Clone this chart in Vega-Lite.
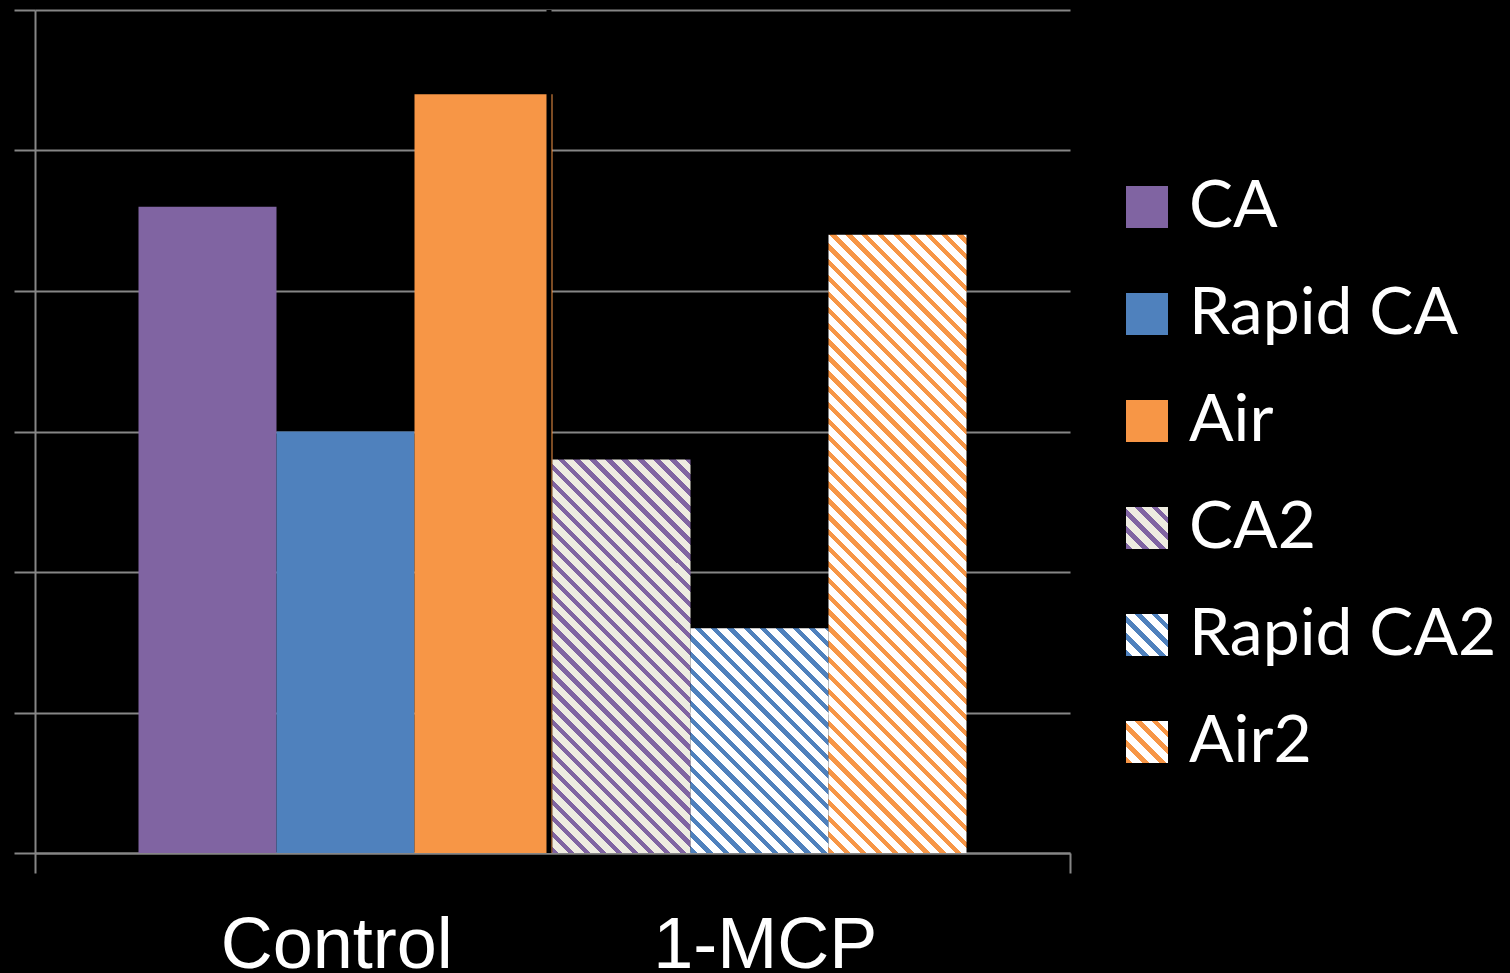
{
  "$schema": "https://vega.github.io/schema/vega-lite/v6.json",
  "width": 1035,
  "height": 843,
  "autosize": {"type": "none"},
  "padding": {"left": 35, "top": 10, "right": 440, "bottom": 120},
  "background": "#000000",
  "config": {"view": {"stroke": null}, "font": "Liberation Sans"},
  "data": {
    "values": [
      {"group": "Control", "series": "CA", "value": 4.6},
      {"group": "Control", "series": "Rapid CA", "value": 3.0},
      {"group": "Control", "series": "Air", "value": 5.4},
      {"group": "1-MCP", "series": "CA2", "value": 2.8},
      {"group": "1-MCP", "series": "Rapid CA2", "value": 1.6},
      {"group": "1-MCP", "series": "Air2", "value": 4.4}
    ]
  },
  "layer": [
    {
      "encoding": {
        "x": {
          "field": "series",
          "type": "nominal",
          "sort": null,
          "scale": {
            "domain": ["CA", "Rapid CA", "Air", "CA2", "Rapid CA2", "Air2"],
            "paddingInner": 0,
            "paddingOuter": 0.75
          },
          "axis": null
        },
        "y": {
          "field": "value",
          "type": "quantitative",
          "scale": {"domain": [0, 6], "nice": false, "zero": true},
          "axis": {
            "values": [0, 1, 2, 3, 4, 5, 6],
            "grid": true,
            "gridColor": "#868686",
            "gridWidth": 2,
            "domainColor": "#868686",
            "domainWidth": 2,
            "tickColor": "#868686",
            "tickWidth": 2,
            "tickSize": 21,
            "labels": false,
            "title": null
          }
        }
      },
      "layer": [
        {
          "transform": [{"filter": "datum.group === 'Control'"}],
          "mark": {"type": "bar"},
          "encoding": {
            "color": {
              "field": "series",
              "type": "nominal",
              "scale": {
                "domain": ["CA", "Rapid CA", "Air", "CA2", "Rapid CA2", "Air2"],
                "range": [
                  "#8064A2",
                  "#4F81BD",
                  "#F79646",
                  {"expr": "{gradient: 'linear', x1: 0, y1: 1, x2: 1, y2: 0, stops: [{offset: 0, color: '#8064A2'}, {offset: 0.08, color: '#8064A2'}, {offset: 0.08, color: '#EEECE1'}, {offset: 0.2, color: '#EEECE1'}, {offset: 0.2, color: '#8064A2'}, {offset: 0.28, color: '#8064A2'}, {offset: 0.28, color: '#EEECE1'}, {offset: 0.4, color: '#EEECE1'}, {offset: 0.4, color: '#8064A2'}, {offset: 0.48, color: '#8064A2'}, {offset: 0.48, color: '#EEECE1'}, {offset: 0.6, color: '#EEECE1'}, {offset: 0.6, color: '#8064A2'}, {offset: 0.68, color: '#8064A2'}, {offset: 0.68, color: '#EEECE1'}, {offset: 0.8, color: '#EEECE1'}, {offset: 0.8, color: '#8064A2'}, {offset: 0.88, color: '#8064A2'}, {offset: 0.88, color: '#EEECE1'}, {offset: 1, color: '#EEECE1'}]}"},
                  {"expr": "{gradient: 'linear', x1: 0, y1: 1, x2: 1, y2: 0, stops: [{offset: 0, color: '#4F81BD'}, {offset: 0.08, color: '#4F81BD'}, {offset: 0.08, color: '#FFFFFF'}, {offset: 0.2, color: '#FFFFFF'}, {offset: 0.2, color: '#4F81BD'}, {offset: 0.28, color: '#4F81BD'}, {offset: 0.28, color: '#FFFFFF'}, {offset: 0.4, color: '#FFFFFF'}, {offset: 0.4, color: '#4F81BD'}, {offset: 0.48, color: '#4F81BD'}, {offset: 0.48, color: '#FFFFFF'}, {offset: 0.6, color: '#FFFFFF'}, {offset: 0.6, color: '#4F81BD'}, {offset: 0.68, color: '#4F81BD'}, {offset: 0.68, color: '#FFFFFF'}, {offset: 0.8, color: '#FFFFFF'}, {offset: 0.8, color: '#4F81BD'}, {offset: 0.88, color: '#4F81BD'}, {offset: 0.88, color: '#FFFFFF'}, {offset: 1, color: '#FFFFFF'}]}"},
                  {"expr": "{gradient: 'linear', x1: 0, y1: 1, x2: 1, y2: 0, stops: [{offset: 0, color: '#F79646'}, {offset: 0.08, color: '#F79646'}, {offset: 0.08, color: '#FFFFFF'}, {offset: 0.2, color: '#FFFFFF'}, {offset: 0.2, color: '#F79646'}, {offset: 0.28, color: '#F79646'}, {offset: 0.28, color: '#FFFFFF'}, {offset: 0.4, color: '#FFFFFF'}, {offset: 0.4, color: '#F79646'}, {offset: 0.48, color: '#F79646'}, {offset: 0.48, color: '#FFFFFF'}, {offset: 0.6, color: '#FFFFFF'}, {offset: 0.6, color: '#F79646'}, {offset: 0.68, color: '#F79646'}, {offset: 0.68, color: '#FFFFFF'}, {offset: 0.8, color: '#FFFFFF'}, {offset: 0.8, color: '#F79646'}, {offset: 0.88, color: '#F79646'}, {offset: 0.88, color: '#FFFFFF'}, {offset: 1, color: '#FFFFFF'}]}"}
                ]
              },
              "legend": {
                "title": null,
                "orient": "none",
                "legendX": 1079,
                "legendY": 164,
                "symbolType": "square",
                "symbolSize": 1764,
                "symbolStrokeWidth": 0,
                "symbolOpacity": 1,
                "labelFont": "Lato",
                "labelFontSize": 66,
                "labelColor": "#FFFFFF",
                "labelOffset": 9,
                "labelLimit": 600,
                "rowPadding": 41
              }
            }
          }
        },
        {
          "transform": [{"filter": "datum.series === 'CA2'"}],
          "mark": {
            "type": "bar",
            "fill": {
              "gradient": "linear", "x1": 0, "y1": 1, "x2": 0.4219, "y2": -0.2028,
              "stops": [
                {"offset":0,"color":"#8064A2"},{"offset":0.012,"color":"#8064A2"},{"offset":0.012,"color":"#EEECE1"},{"offset":0.03,"color":"#EEECE1"},
                {"offset":0.03,"color":"#8064A2"},{"offset":0.042,"color":"#8064A2"},{"offset":0.042,"color":"#EEECE1"},{"offset":0.06,"color":"#EEECE1"},
                {"offset":0.06,"color":"#8064A2"},{"offset":0.072,"color":"#8064A2"},{"offset":0.072,"color":"#EEECE1"},{"offset":0.09,"color":"#EEECE1"},
                {"offset":0.09,"color":"#8064A2"},{"offset":0.102,"color":"#8064A2"},{"offset":0.102,"color":"#EEECE1"},{"offset":0.12,"color":"#EEECE1"},
                {"offset":0.12,"color":"#8064A2"},{"offset":0.132,"color":"#8064A2"},{"offset":0.132,"color":"#EEECE1"},{"offset":0.15,"color":"#EEECE1"},
                {"offset":0.15,"color":"#8064A2"},{"offset":0.162,"color":"#8064A2"},{"offset":0.162,"color":"#EEECE1"},{"offset":0.18,"color":"#EEECE1"},
                {"offset":0.18,"color":"#8064A2"},{"offset":0.192,"color":"#8064A2"},{"offset":0.192,"color":"#EEECE1"},{"offset":0.21,"color":"#EEECE1"},
                {"offset":0.21,"color":"#8064A2"},{"offset":0.222,"color":"#8064A2"},{"offset":0.222,"color":"#EEECE1"},{"offset":0.24,"color":"#EEECE1"},
                {"offset":0.24,"color":"#8064A2"},{"offset":0.252,"color":"#8064A2"},{"offset":0.252,"color":"#EEECE1"},{"offset":0.27,"color":"#EEECE1"},
                {"offset":0.27,"color":"#8064A2"},{"offset":0.282,"color":"#8064A2"},{"offset":0.282,"color":"#EEECE1"},{"offset":0.3,"color":"#EEECE1"},
                {"offset":0.3,"color":"#8064A2"},{"offset":0.312,"color":"#8064A2"},{"offset":0.312,"color":"#EEECE1"},{"offset":0.33,"color":"#EEECE1"},
                {"offset":0.33,"color":"#8064A2"},{"offset":0.342,"color":"#8064A2"},{"offset":0.342,"color":"#EEECE1"},{"offset":0.36,"color":"#EEECE1"},
                {"offset":0.36,"color":"#8064A2"},{"offset":0.372,"color":"#8064A2"},{"offset":0.372,"color":"#EEECE1"},{"offset":0.39,"color":"#EEECE1"},
                {"offset":0.39,"color":"#8064A2"},{"offset":0.402,"color":"#8064A2"},{"offset":0.402,"color":"#EEECE1"},{"offset":0.42,"color":"#EEECE1"},
                {"offset":0.42,"color":"#8064A2"},{"offset":0.432,"color":"#8064A2"},{"offset":0.432,"color":"#EEECE1"},{"offset":0.45,"color":"#EEECE1"},
                {"offset":0.45,"color":"#8064A2"},{"offset":0.462,"color":"#8064A2"},{"offset":0.462,"color":"#EEECE1"},{"offset":0.48,"color":"#EEECE1"},
                {"offset":0.48,"color":"#8064A2"},{"offset":0.492,"color":"#8064A2"},{"offset":0.492,"color":"#EEECE1"},{"offset":0.51,"color":"#EEECE1"},
                {"offset":0.51,"color":"#8064A2"},{"offset":0.522,"color":"#8064A2"},{"offset":0.522,"color":"#EEECE1"},{"offset":0.54,"color":"#EEECE1"},
                {"offset":0.54,"color":"#8064A2"},{"offset":0.552,"color":"#8064A2"},{"offset":0.552,"color":"#EEECE1"},{"offset":0.57,"color":"#EEECE1"},
                {"offset":0.57,"color":"#8064A2"},{"offset":0.582,"color":"#8064A2"},{"offset":0.582,"color":"#EEECE1"},{"offset":0.6,"color":"#EEECE1"},
                {"offset":0.6,"color":"#8064A2"},{"offset":0.612,"color":"#8064A2"},{"offset":0.612,"color":"#EEECE1"},{"offset":0.63,"color":"#EEECE1"},
                {"offset":0.63,"color":"#8064A2"},{"offset":0.642,"color":"#8064A2"},{"offset":0.642,"color":"#EEECE1"},{"offset":0.66,"color":"#EEECE1"},
                {"offset":0.66,"color":"#8064A2"},{"offset":0.672,"color":"#8064A2"},{"offset":0.672,"color":"#EEECE1"},{"offset":0.69,"color":"#EEECE1"},
                {"offset":0.69,"color":"#8064A2"},{"offset":0.702,"color":"#8064A2"},{"offset":0.702,"color":"#EEECE1"},{"offset":0.72,"color":"#EEECE1"},
                {"offset":0.72,"color":"#8064A2"},{"offset":0.732,"color":"#8064A2"},{"offset":0.732,"color":"#EEECE1"},{"offset":0.75,"color":"#EEECE1"},
                {"offset":0.75,"color":"#8064A2"},{"offset":0.762,"color":"#8064A2"},{"offset":0.762,"color":"#EEECE1"},{"offset":0.78,"color":"#EEECE1"},
                {"offset":0.78,"color":"#8064A2"},{"offset":0.792,"color":"#8064A2"},{"offset":0.792,"color":"#EEECE1"},{"offset":0.81,"color":"#EEECE1"},
                {"offset":0.81,"color":"#8064A2"},{"offset":0.822,"color":"#8064A2"},{"offset":0.822,"color":"#EEECE1"},{"offset":0.84,"color":"#EEECE1"},
                {"offset":0.84,"color":"#8064A2"},{"offset":0.852,"color":"#8064A2"},{"offset":0.852,"color":"#EEECE1"},{"offset":0.87,"color":"#EEECE1"},
                {"offset":0.87,"color":"#8064A2"},{"offset":0.882,"color":"#8064A2"},{"offset":0.882,"color":"#EEECE1"},{"offset":0.9,"color":"#EEECE1"},
                {"offset":0.9,"color":"#8064A2"},{"offset":0.912,"color":"#8064A2"},{"offset":0.912,"color":"#EEECE1"},{"offset":0.93,"color":"#EEECE1"},
                {"offset":0.93,"color":"#8064A2"},{"offset":0.942,"color":"#8064A2"},{"offset":0.942,"color":"#EEECE1"},{"offset":0.96,"color":"#EEECE1"},
                {"offset":0.96,"color":"#8064A2"},{"offset":0.972,"color":"#8064A2"},{"offset":0.972,"color":"#EEECE1"},{"offset":0.99,"color":"#EEECE1"},
                {"offset":0.99,"color":"#8064A2"},{"offset":1,"color":"#8064A2"}
              ]
            }
          }
        },
        {
          "transform": [{"filter": "datum.series === 'Rapid CA2'"}],
          "mark": {
            "type": "bar",
            "fill": {
              "gradient": "linear", "x1": 0, "y1": 1, "x2": 0.7196, "y2": -0.1721,
              "stops": [
                {"offset":0,"color":"#4F81BD"},{"offset":0.018,"color":"#4F81BD"},{"offset":0.018,"color":"#FFFFFF"},{"offset":0.045,"color":"#FFFFFF"},
                {"offset":0.045,"color":"#4F81BD"},{"offset":0.063,"color":"#4F81BD"},{"offset":0.063,"color":"#FFFFFF"},{"offset":0.09,"color":"#FFFFFF"},
                {"offset":0.09,"color":"#4F81BD"},{"offset":0.108,"color":"#4F81BD"},{"offset":0.108,"color":"#FFFFFF"},{"offset":0.135,"color":"#FFFFFF"},
                {"offset":0.135,"color":"#4F81BD"},{"offset":0.153,"color":"#4F81BD"},{"offset":0.153,"color":"#FFFFFF"},{"offset":0.18,"color":"#FFFFFF"},
                {"offset":0.18,"color":"#4F81BD"},{"offset":0.198,"color":"#4F81BD"},{"offset":0.198,"color":"#FFFFFF"},{"offset":0.225,"color":"#FFFFFF"},
                {"offset":0.225,"color":"#4F81BD"},{"offset":0.243,"color":"#4F81BD"},{"offset":0.243,"color":"#FFFFFF"},{"offset":0.27,"color":"#FFFFFF"},
                {"offset":0.27,"color":"#4F81BD"},{"offset":0.288,"color":"#4F81BD"},{"offset":0.288,"color":"#FFFFFF"},{"offset":0.315,"color":"#FFFFFF"},
                {"offset":0.315,"color":"#4F81BD"},{"offset":0.333,"color":"#4F81BD"},{"offset":0.333,"color":"#FFFFFF"},{"offset":0.36,"color":"#FFFFFF"},
                {"offset":0.36,"color":"#4F81BD"},{"offset":0.378,"color":"#4F81BD"},{"offset":0.378,"color":"#FFFFFF"},{"offset":0.405,"color":"#FFFFFF"},
                {"offset":0.405,"color":"#4F81BD"},{"offset":0.423,"color":"#4F81BD"},{"offset":0.423,"color":"#FFFFFF"},{"offset":0.45,"color":"#FFFFFF"},
                {"offset":0.45,"color":"#4F81BD"},{"offset":0.468,"color":"#4F81BD"},{"offset":0.468,"color":"#FFFFFF"},{"offset":0.495,"color":"#FFFFFF"},
                {"offset":0.495,"color":"#4F81BD"},{"offset":0.513,"color":"#4F81BD"},{"offset":0.513,"color":"#FFFFFF"},{"offset":0.54,"color":"#FFFFFF"},
                {"offset":0.54,"color":"#4F81BD"},{"offset":0.558,"color":"#4F81BD"},{"offset":0.558,"color":"#FFFFFF"},{"offset":0.585,"color":"#FFFFFF"},
                {"offset":0.585,"color":"#4F81BD"},{"offset":0.603,"color":"#4F81BD"},{"offset":0.603,"color":"#FFFFFF"},{"offset":0.63,"color":"#FFFFFF"},
                {"offset":0.63,"color":"#4F81BD"},{"offset":0.648,"color":"#4F81BD"},{"offset":0.648,"color":"#FFFFFF"},{"offset":0.675,"color":"#FFFFFF"},
                {"offset":0.675,"color":"#4F81BD"},{"offset":0.693,"color":"#4F81BD"},{"offset":0.693,"color":"#FFFFFF"},{"offset":0.72,"color":"#FFFFFF"},
                {"offset":0.72,"color":"#4F81BD"},{"offset":0.738,"color":"#4F81BD"},{"offset":0.738,"color":"#FFFFFF"},{"offset":0.765,"color":"#FFFFFF"},
                {"offset":0.765,"color":"#4F81BD"},{"offset":0.783,"color":"#4F81BD"},{"offset":0.783,"color":"#FFFFFF"},{"offset":0.81,"color":"#FFFFFF"},
                {"offset":0.81,"color":"#4F81BD"},{"offset":0.828,"color":"#4F81BD"},{"offset":0.828,"color":"#FFFFFF"},{"offset":0.855,"color":"#FFFFFF"},
                {"offset":0.855,"color":"#4F81BD"},{"offset":0.873,"color":"#4F81BD"},{"offset":0.873,"color":"#FFFFFF"},{"offset":0.9,"color":"#FFFFFF"},
                {"offset":0.9,"color":"#4F81BD"},{"offset":0.918,"color":"#4F81BD"},{"offset":0.918,"color":"#FFFFFF"},{"offset":0.945,"color":"#FFFFFF"},
                {"offset":0.945,"color":"#4F81BD"},{"offset":0.963,"color":"#4F81BD"},{"offset":0.963,"color":"#FFFFFF"},{"offset":0.99,"color":"#FFFFFF"},
                {"offset":0.99,"color":"#4F81BD"},{"offset":1,"color":"#4F81BD"}
              ]
            }
          }
        },
        {
          "transform": [{"filter": "datum.series === 'Air2'"}],
          "mark": {
            "type": "bar",
            "fill": {
              "gradient": "linear", "x1": 0, "y1": 1, "x2": 0.2601, "y2": -0.1652,
              "stops": [
                {"offset":0,"color":"#F79646"},{"offset":0.0084,"color":"#F79646"},{"offset":0.0084,"color":"#FFFFFF"},{"offset":0.021,"color":"#FFFFFF"},
                {"offset":0.021,"color":"#F79646"},{"offset":0.0294,"color":"#F79646"},{"offset":0.0294,"color":"#FFFFFF"},{"offset":0.042,"color":"#FFFFFF"},
                {"offset":0.042,"color":"#F79646"},{"offset":0.0504,"color":"#F79646"},{"offset":0.0504,"color":"#FFFFFF"},{"offset":0.063,"color":"#FFFFFF"},
                {"offset":0.063,"color":"#F79646"},{"offset":0.0714,"color":"#F79646"},{"offset":0.0714,"color":"#FFFFFF"},{"offset":0.084,"color":"#FFFFFF"},
                {"offset":0.084,"color":"#F79646"},{"offset":0.0924,"color":"#F79646"},{"offset":0.0924,"color":"#FFFFFF"},{"offset":0.105,"color":"#FFFFFF"},
                {"offset":0.105,"color":"#F79646"},{"offset":0.1134,"color":"#F79646"},{"offset":0.1134,"color":"#FFFFFF"},{"offset":0.126,"color":"#FFFFFF"},
                {"offset":0.126,"color":"#F79646"},{"offset":0.1344,"color":"#F79646"},{"offset":0.1344,"color":"#FFFFFF"},{"offset":0.147,"color":"#FFFFFF"},
                {"offset":0.147,"color":"#F79646"},{"offset":0.1554,"color":"#F79646"},{"offset":0.1554,"color":"#FFFFFF"},{"offset":0.168,"color":"#FFFFFF"},
                {"offset":0.168,"color":"#F79646"},{"offset":0.1764,"color":"#F79646"},{"offset":0.1764,"color":"#FFFFFF"},{"offset":0.189,"color":"#FFFFFF"},
                {"offset":0.189,"color":"#F79646"},{"offset":0.1974,"color":"#F79646"},{"offset":0.1974,"color":"#FFFFFF"},{"offset":0.21,"color":"#FFFFFF"},
                {"offset":0.21,"color":"#F79646"},{"offset":0.2184,"color":"#F79646"},{"offset":0.2184,"color":"#FFFFFF"},{"offset":0.231,"color":"#FFFFFF"},
                {"offset":0.231,"color":"#F79646"},{"offset":0.2394,"color":"#F79646"},{"offset":0.2394,"color":"#FFFFFF"},{"offset":0.252,"color":"#FFFFFF"},
                {"offset":0.252,"color":"#F79646"},{"offset":0.2604,"color":"#F79646"},{"offset":0.2604,"color":"#FFFFFF"},{"offset":0.273,"color":"#FFFFFF"},
                {"offset":0.273,"color":"#F79646"},{"offset":0.2814,"color":"#F79646"},{"offset":0.2814,"color":"#FFFFFF"},{"offset":0.294,"color":"#FFFFFF"},
                {"offset":0.294,"color":"#F79646"},{"offset":0.3024,"color":"#F79646"},{"offset":0.3024,"color":"#FFFFFF"},{"offset":0.315,"color":"#FFFFFF"},
                {"offset":0.315,"color":"#F79646"},{"offset":0.3234,"color":"#F79646"},{"offset":0.3234,"color":"#FFFFFF"},{"offset":0.336,"color":"#FFFFFF"},
                {"offset":0.336,"color":"#F79646"},{"offset":0.3444,"color":"#F79646"},{"offset":0.3444,"color":"#FFFFFF"},{"offset":0.357,"color":"#FFFFFF"},
                {"offset":0.357,"color":"#F79646"},{"offset":0.3654,"color":"#F79646"},{"offset":0.3654,"color":"#FFFFFF"},{"offset":0.378,"color":"#FFFFFF"},
                {"offset":0.378,"color":"#F79646"},{"offset":0.3864,"color":"#F79646"},{"offset":0.3864,"color":"#FFFFFF"},{"offset":0.399,"color":"#FFFFFF"},
                {"offset":0.399,"color":"#F79646"},{"offset":0.4074,"color":"#F79646"},{"offset":0.4074,"color":"#FFFFFF"},{"offset":0.42,"color":"#FFFFFF"},
                {"offset":0.42,"color":"#F79646"},{"offset":0.4284,"color":"#F79646"},{"offset":0.4284,"color":"#FFFFFF"},{"offset":0.441,"color":"#FFFFFF"},
                {"offset":0.441,"color":"#F79646"},{"offset":0.4494,"color":"#F79646"},{"offset":0.4494,"color":"#FFFFFF"},{"offset":0.462,"color":"#FFFFFF"},
                {"offset":0.462,"color":"#F79646"},{"offset":0.4704,"color":"#F79646"},{"offset":0.4704,"color":"#FFFFFF"},{"offset":0.483,"color":"#FFFFFF"},
                {"offset":0.483,"color":"#F79646"},{"offset":0.4914,"color":"#F79646"},{"offset":0.4914,"color":"#FFFFFF"},{"offset":0.504,"color":"#FFFFFF"},
                {"offset":0.504,"color":"#F79646"},{"offset":0.5124,"color":"#F79646"},{"offset":0.5124,"color":"#FFFFFF"},{"offset":0.525,"color":"#FFFFFF"},
                {"offset":0.525,"color":"#F79646"},{"offset":0.5334,"color":"#F79646"},{"offset":0.5334,"color":"#FFFFFF"},{"offset":0.546,"color":"#FFFFFF"},
                {"offset":0.546,"color":"#F79646"},{"offset":0.5544,"color":"#F79646"},{"offset":0.5544,"color":"#FFFFFF"},{"offset":0.567,"color":"#FFFFFF"},
                {"offset":0.567,"color":"#F79646"},{"offset":0.5754,"color":"#F79646"},{"offset":0.5754,"color":"#FFFFFF"},{"offset":0.588,"color":"#FFFFFF"},
                {"offset":0.588,"color":"#F79646"},{"offset":0.5964,"color":"#F79646"},{"offset":0.5964,"color":"#FFFFFF"},{"offset":0.609,"color":"#FFFFFF"},
                {"offset":0.609,"color":"#F79646"},{"offset":0.6174,"color":"#F79646"},{"offset":0.6174,"color":"#FFFFFF"},{"offset":0.63,"color":"#FFFFFF"},
                {"offset":0.63,"color":"#F79646"},{"offset":0.6384,"color":"#F79646"},{"offset":0.6384,"color":"#FFFFFF"},{"offset":0.651,"color":"#FFFFFF"},
                {"offset":0.651,"color":"#F79646"},{"offset":0.6594,"color":"#F79646"},{"offset":0.6594,"color":"#FFFFFF"},{"offset":0.672,"color":"#FFFFFF"},
                {"offset":0.672,"color":"#F79646"},{"offset":0.6804,"color":"#F79646"},{"offset":0.6804,"color":"#FFFFFF"},{"offset":0.693,"color":"#FFFFFF"},
                {"offset":0.693,"color":"#F79646"},{"offset":0.7014,"color":"#F79646"},{"offset":0.7014,"color":"#FFFFFF"},{"offset":0.714,"color":"#FFFFFF"},
                {"offset":0.714,"color":"#F79646"},{"offset":0.7224,"color":"#F79646"},{"offset":0.7224,"color":"#FFFFFF"},{"offset":0.735,"color":"#FFFFFF"},
                {"offset":0.735,"color":"#F79646"},{"offset":0.7434,"color":"#F79646"},{"offset":0.7434,"color":"#FFFFFF"},{"offset":0.756,"color":"#FFFFFF"},
                {"offset":0.756,"color":"#F79646"},{"offset":0.7644,"color":"#F79646"},{"offset":0.7644,"color":"#FFFFFF"},{"offset":0.777,"color":"#FFFFFF"},
                {"offset":0.777,"color":"#F79646"},{"offset":0.7854,"color":"#F79646"},{"offset":0.7854,"color":"#FFFFFF"},{"offset":0.798,"color":"#FFFFFF"},
                {"offset":0.798,"color":"#F79646"},{"offset":0.8064,"color":"#F79646"},{"offset":0.8064,"color":"#FFFFFF"},{"offset":0.819,"color":"#FFFFFF"},
                {"offset":0.819,"color":"#F79646"},{"offset":0.8274,"color":"#F79646"},{"offset":0.8274,"color":"#FFFFFF"},{"offset":0.84,"color":"#FFFFFF"},
                {"offset":0.84,"color":"#F79646"},{"offset":0.8484,"color":"#F79646"},{"offset":0.8484,"color":"#FFFFFF"},{"offset":0.861,"color":"#FFFFFF"},
                {"offset":0.861,"color":"#F79646"},{"offset":0.8694,"color":"#F79646"},{"offset":0.8694,"color":"#FFFFFF"},{"offset":0.882,"color":"#FFFFFF"},
                {"offset":0.882,"color":"#F79646"},{"offset":0.8904,"color":"#F79646"},{"offset":0.8904,"color":"#FFFFFF"},{"offset":0.903,"color":"#FFFFFF"},
                {"offset":0.903,"color":"#F79646"},{"offset":0.9114,"color":"#F79646"},{"offset":0.9114,"color":"#FFFFFF"},{"offset":0.924,"color":"#FFFFFF"},
                {"offset":0.924,"color":"#F79646"},{"offset":0.9324,"color":"#F79646"},{"offset":0.9324,"color":"#FFFFFF"},{"offset":0.945,"color":"#FFFFFF"},
                {"offset":0.945,"color":"#F79646"},{"offset":0.9534,"color":"#F79646"},{"offset":0.9534,"color":"#FFFFFF"},{"offset":0.966,"color":"#FFFFFF"},
                {"offset":0.966,"color":"#F79646"},{"offset":0.9744,"color":"#F79646"},{"offset":0.9744,"color":"#FFFFFF"},{"offset":0.987,"color":"#FFFFFF"},
                {"offset":0.987,"color":"#F79646"},{"offset":0.9954,"color":"#F79646"},{"offset":0.9954,"color":"#FFFFFF"},{"offset":1,"color":"#FFFFFF"}
              ]
            }
          }
        }
      ]
    },
    {
      "mark": {"type": "rule", "opacity": 0},
      "encoding": {
        "x": {
          "datum": "all",
          "type": "nominal",
          "scale": {"paddingInner": 0, "paddingOuter": 0},
          "axis": {
            "orient": "bottom",
            "tickBand": "extent",
            "labels": false,
            "title": null,
            "domainColor": "#868686",
            "domainWidth": 2,
            "tickColor": "#868686",
            "tickWidth": 2,
            "tickSize": 20
          }
        }
      }
    },
    {
      "data": {"values": [{"group": "1-MCP"}]},
      "mark": {"type": "rule", "color": "#000000", "strokeWidth": 5, "xOffset": -3.5},
      "encoding": {
        "x": {
          "field": "group",
          "type": "nominal",
          "bandPosition": 0,
          "scale": {"domain": ["Control", "1-MCP"], "paddingInner": 0, "paddingOuter": 0},
          "axis": {
            "orient": "bottom",
            "domain": false,
            "ticks": false,
            "tickSize": 0,
            "title": null,
            "labelAngle": 0,
            "labelLimit": 500,
            "labelFont": "Liberation Sans",
            "labelFontSize": 72,
            "labelColor": "#FFFFFF",
            "labelPadding": 57,
            "labelOffset": {"condition": {"test": "datum.value === 'Control'", "value": 43}, "value": -46}
          }
        }
      }
    }
  ],
  "resolve": {"scale": {"x": "independent"}, "axis": {"x": "independent"}}
}
